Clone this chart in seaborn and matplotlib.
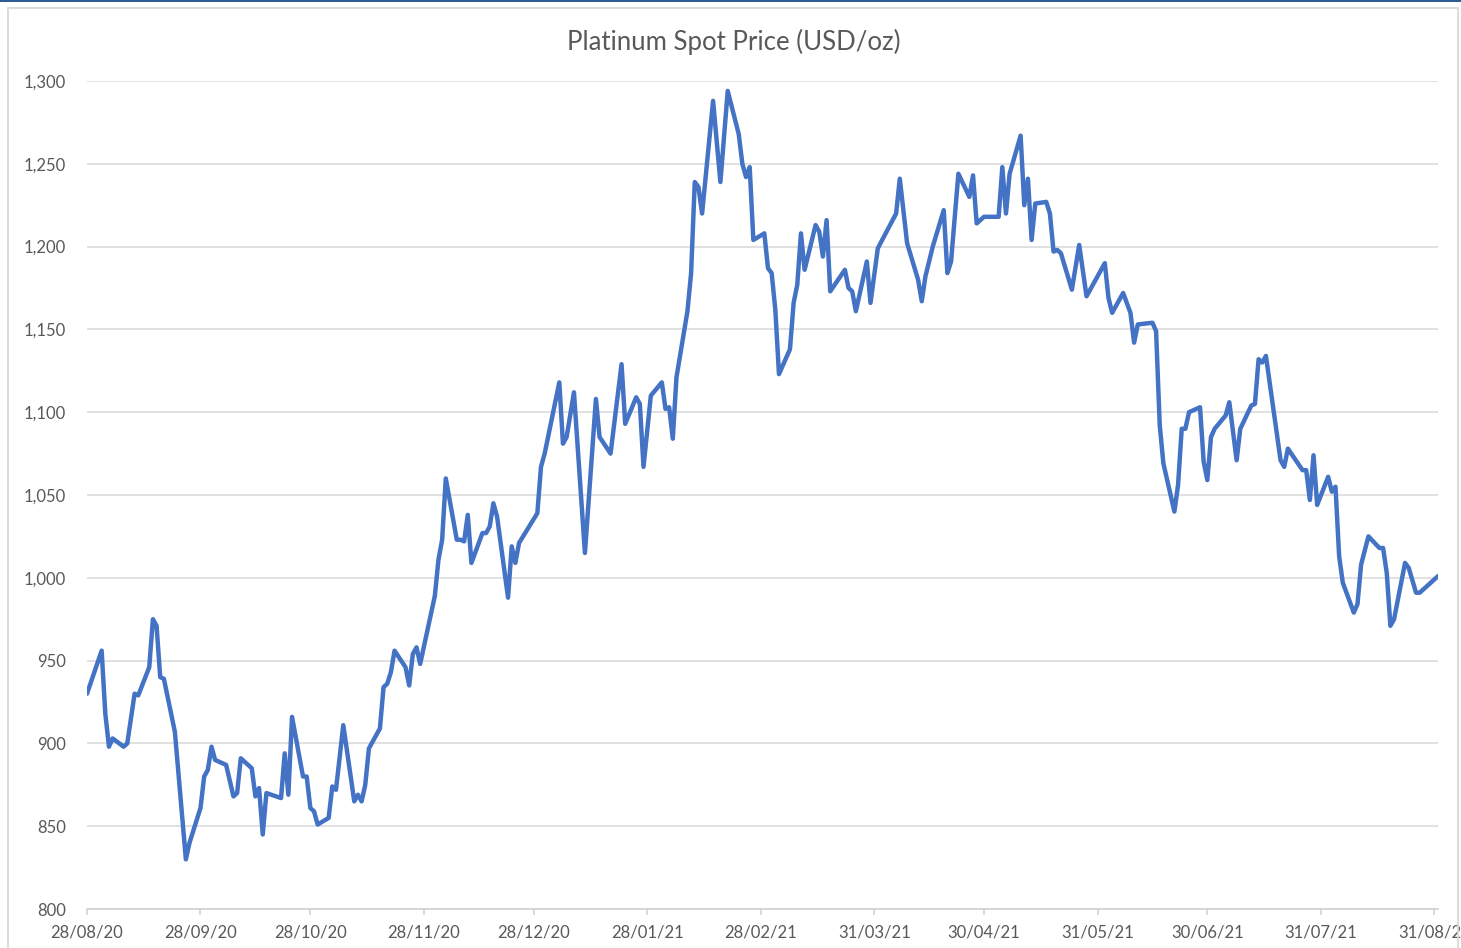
# Platinum spot price line chart, Excel-like look.

import pandas as pd
import seaborn as sns
import matplotlib
matplotlib.use('Agg')
import matplotlib.pyplot as plt
import matplotlib.dates as mdates
from matplotlib.ticker import FuncFormatter, MultipleLocator
from matplotlib.patches import Rectangle
from matplotlib.lines import Line2D

title = 'Platinum Spot Price (USD/oz)'

dates = [
    '2020-08-28', '2020-09-01', '2020-09-02', '2020-09-03', '2020-09-04', '2020-09-07',
    '2020-09-08', '2020-09-10', '2020-09-11', '2020-09-14', '2020-09-15', '2020-09-16',
    '2020-09-17', '2020-09-18', '2020-09-21', '2020-09-24', '2020-09-25', '2020-09-28',
    '2020-09-29', '2020-09-30', '2020-10-01', '2020-10-02', '2020-10-05', '2020-10-07',
    '2020-10-08', '2020-10-09', '2020-10-12', '2020-10-13', '2020-10-14', '2020-10-15',
    '2020-10-16', '2020-10-20', '2020-10-21', '2020-10-22', '2020-10-23', '2020-10-26',
    '2020-10-27', '2020-10-28', '2020-10-29', '2020-10-30', '2020-11-02', '2020-11-03',
    '2020-11-04', '2020-11-06', '2020-11-09', '2020-11-10', '2020-11-11', '2020-11-12',
    '2020-11-13', '2020-11-16', '2020-11-17', '2020-11-18', '2020-11-19', '2020-11-20',
    '2020-11-23', '2020-11-24', '2020-11-25', '2020-11-26', '2020-11-27',
    '2020-12-01', '2020-12-02', '2020-12-03', '2020-12-04', '2020-12-07', '2020-12-08',
    '2020-12-09', '2020-12-10', '2020-12-11', '2020-12-14', '2020-12-15', '2020-12-16',
    '2020-12-17', '2020-12-18', '2020-12-21', '2020-12-22', '2020-12-23', '2020-12-24',
    '2020-12-29', '2020-12-30', '2020-12-31',
    '2021-01-04', '2021-01-05', '2021-01-06', '2021-01-08', '2021-01-11', '2021-01-14',
    '2021-01-15', '2021-01-18', '2021-01-21', '2021-01-22', '2021-01-25', '2021-01-26',
    '2021-01-27', '2021-01-29',
    '2021-02-01', '2021-02-02', '2021-02-03', '2021-02-04', '2021-02-05', '2021-02-08',
    '2021-02-09', '2021-02-10', '2021-02-11', '2021-02-12', '2021-02-15', '2021-02-17',
    '2021-02-19', '2021-02-22', '2021-02-23', '2021-02-24', '2021-02-25', '2021-02-26',
    '2021-03-01', '2021-03-02', '2021-03-03', '2021-03-04', '2021-03-05', '2021-03-08',
    '2021-03-09', '2021-03-10', '2021-03-11', '2021-03-12', '2021-03-15', '2021-03-16',
    '2021-03-17', '2021-03-18', '2021-03-19', '2021-03-23', '2021-03-24', '2021-03-25',
    '2021-03-26', '2021-03-29', '2021-03-30',
    '2021-04-01', '2021-04-06', '2021-04-07', '2021-04-09', '2021-04-12', '2021-04-13',
    '2021-04-14', '2021-04-16', '2021-04-19', '2021-04-20', '2021-04-21', '2021-04-23',
    '2021-04-26', '2021-04-27', '2021-04-28', '2021-04-29', '2021-04-30',
    '2021-05-04', '2021-05-05', '2021-05-06', '2021-05-07', '2021-05-10', '2021-05-11',
    '2021-05-12', '2021-05-13', '2021-05-14', '2021-05-17', '2021-05-18', '2021-05-19',
    '2021-05-20', '2021-05-21', '2021-05-24', '2021-05-26', '2021-05-28',
    '2021-06-02', '2021-06-03', '2021-06-04', '2021-06-07', '2021-06-09', '2021-06-10',
    '2021-06-11', '2021-06-15', '2021-06-16', '2021-06-17', '2021-06-18', '2021-06-21',
    '2021-06-22', '2021-06-23', '2021-06-24', '2021-06-25', '2021-06-28', '2021-06-29',
    '2021-06-30',
    '2021-07-01', '2021-07-02', '2021-07-05', '2021-07-06', '2021-07-08', '2021-07-09',
    '2021-07-12', '2021-07-13', '2021-07-14', '2021-07-15', '2021-07-16', '2021-07-20',
    '2021-07-21', '2021-07-22', '2021-07-26', '2021-07-27', '2021-07-28', '2021-07-29',
    '2021-07-30',
    '2021-08-02', '2021-08-03', '2021-08-04', '2021-08-05', '2021-08-06', '2021-08-09',
    '2021-08-10', '2021-08-11', '2021-08-13', '2021-08-16', '2021-08-17', '2021-08-18',
    '2021-08-19', '2021-08-20', '2021-08-23', '2021-08-24', '2021-08-26', '2021-08-27',
    '2021-09-01',
]

prices = [
    930, 956, 918, 898, 903, 898,
    900, 930, 929, 946, 975, 971,
    940, 939, 907, 830, 840, 861,
    880, 884, 898, 890, 887, 868,
    870, 891, 885, 868, 873, 845,
    870, 867, 894, 869, 916, 880,
    880, 861, 859, 851, 855, 874,
    872, 911, 865, 869, 865, 875,
    897, 909, 934, 936, 943, 956,
    946, 935, 954, 958, 948,
    989, 1011, 1023, 1060, 1023, 1023,
    1022, 1038, 1009, 1027, 1027, 1031,
    1045, 1037, 988, 1019, 1009, 1021,
    1039, 1067, 1075,
    1118, 1081, 1085, 1112, 1015, 1108,
    1085, 1075, 1129, 1093, 1109, 1105,
    1067, 1110,
    1118, 1102, 1103, 1084, 1121, 1161,
    1184, 1239, 1236, 1220, 1288, 1239,
    1294, 1268, 1250, 1242, 1248, 1204,
    1208, 1187, 1184, 1162, 1123, 1138,
    1166, 1177, 1208, 1186, 1213, 1209,
    1194, 1216, 1173, 1186, 1175, 1173,
    1161, 1191, 1166,
    1199, 1220, 1241, 1202, 1180, 1167,
    1182, 1200, 1222, 1184, 1191, 1244,
    1230, 1243, 1214, 1216, 1218,
    1218, 1248, 1220, 1244, 1267, 1225,
    1241, 1204, 1226, 1227, 1220, 1197,
    1198, 1196, 1174, 1201, 1170,
    1190, 1169, 1160, 1172, 1160, 1142,
    1153, 1154, 1149, 1092, 1069, 1040,
    1056, 1090, 1090, 1100, 1103, 1070,
    1059,
    1085, 1090, 1098, 1106, 1071, 1090,
    1104, 1105, 1132, 1130, 1134, 1071,
    1067, 1078, 1065, 1065, 1047, 1074,
    1044,
    1061, 1052, 1055, 1013, 997, 979,
    984, 1008, 1025, 1018, 1018, 1003,
    971, 975, 1009, 1006, 991, 991,
    1001,
]

tick_dates = ['2020-08-28', '2020-09-28', '2020-10-28', '2020-11-28', '2020-12-28',
              '2021-01-28', '2021-02-28', '2021-03-31', '2021-04-30', '2021-05-31',
              '2021-06-30', '2021-07-31', '2021-08-31']

sns.set_theme(style='white')
plt.rcParams['font.family'] = ['Lato', 'DejaVu Sans']

df = pd.DataFrame({'Date': pd.to_datetime(dates), 'Price': prices})

W, H = 1461, 948
fig = plt.figure(figsize=(W / 100, H / 100), dpi=100)
ax = fig.add_axes([87 / W, 1 - 909 / H, (1438 - 87) / W, (909 - 81) / H])

sns.lineplot(data=df, x='Date', y='Price', ax=ax, color='#4472C4', linewidth=3.2)
ax.lines[0].set_solid_joinstyle('round')
ax.lines[0].set_solid_capstyle('round')

ax.set_xlim(df['Date'].iloc[0], df['Date'].iloc[-1])
ax.set_ylim(800, 1300)
ax.yaxis.set_major_locator(MultipleLocator(50))
ax.yaxis.set_major_formatter(FuncFormatter(lambda v, p: f'{v:,.0f}'))
ax.set_xticks(pd.to_datetime(tick_dates))
ax.xaxis.set_major_formatter(mdates.DateFormatter('%d/%m/%y'))

ax.grid(axis='y', color='#D9D9D9', linewidth=1.1)
ax.grid(axis='x', visible=False)
ax.set_axisbelow(True)
for s in ['top', 'right', 'left']:
    ax.spines[s].set_visible(False)
ax.spines['bottom'].set_color('#D0D0D0')
ax.spines['bottom'].set_linewidth(1.1)
ax.tick_params(axis='x', length=4, width=1.1, color='#D0D0D0', labelsize=12,
               labelcolor='#595959', pad=7, direction='out', bottom=True)
ax.tick_params(axis='y', length=0, labelsize=12, labelcolor='#595959', pad=15)
ax.set_xlabel('')
ax.set_ylabel('')

fig.text(733.5 / W, 1 - 41.5 / H, title, ha='center', va='center', fontsize=18.5, color='#595959')

# chart frame and the strip at the top of the screenshot
fig.patches.append(Rectangle((8 / W, -0.05), (1458 - 8) / W, 1.05 - 7.5 / H,
                             transform=fig.transFigure, fill=False,
                             edgecolor='#D9D9D9', linewidth=1.3))
fig.lines.append(Line2D([0, 1], [1 - 0.8 / H, 1 - 0.8 / H], transform=fig.transFigure,
                        color='#2B5797', linewidth=1.4))

fig.savefig('out.png', dpi=100)
